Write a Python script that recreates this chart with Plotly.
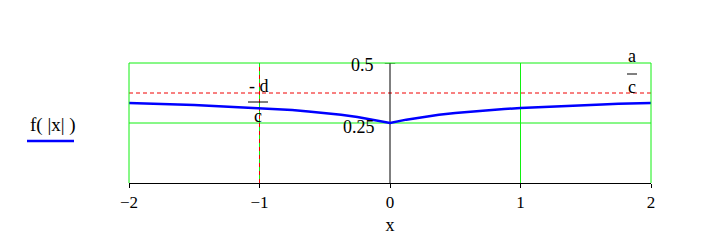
import plotly.graph_objects as go

# Data: f(|x|)
x_vals = [-2.0, -1.875, -1.75, -1.625, -1.5, -1.375, -1.25, -1.125, -1.0,
          -0.875, -0.75, -0.625, -0.5, -0.375, -0.25, -0.125, 0.0,
          0.125, 0.25, 0.375, 0.5, 0.625, 0.75, 0.875, 1.0,
          1.125, 1.25, 1.375, 1.5, 1.625, 1.75, 1.875, 2.0]
f_vals = [0.333, 0.332, 0.330, 0.327, 0.325, 0.322, 0.319, 0.316, 0.3125,
          0.308, 0.304, 0.298, 0.292, 0.284, 0.275, 0.264, 0.25,
          0.264, 0.275, 0.284, 0.292, 0.298, 0.304, 0.308, 0.3125,
          0.316, 0.319, 0.322, 0.325, 0.327, 0.330, 0.332, 0.333]
asym_y = 0.375   # a/c
asym_x = -1.0    # -d/c
x_ticks = [-2, -1, 0, 1, 2]
y_ticks = [0.25, 0.5]
y_tick_labels = ["0.25", "0.5"]

FONT = "Liberation Serif"
GREEN = "#10f010"
RED = "#f00000"
W, H = 703, 251
L, R, T, B = 129, 52, 63, 68
PW, PH = W - L - R, H - T - B


def px(xp):
    return (xp - L) / PW


def py(yp):
    return (H - B - yp) / PH


fig = go.Figure()

# inner grid lines (green) as traces so they align with the dashed asymptotes
for xv in x_ticks[1:-1]:
    if xv == 0:
        continue
    fig.add_trace(go.Scatter(x=[xv, xv], y=[0, 0.5], mode="lines",
                             line=dict(color=GREEN, width=1),
                             showlegend=False, hoverinfo="skip"))
fig.add_trace(go.Scatter(x=[-2, 2], y=[y_ticks[0], y_ticks[0]], mode="lines",
                         line=dict(color=GREEN, width=1),
                         showlegend=False, hoverinfo="skip"))
# plot border (green) at x=-2, x=2, y=0.5
fig.add_shape(type="line", xref="paper", yref="paper", x0=0, x1=0, y0=0, y1=1,
              line=dict(color=GREEN, width=1), layer="above")
fig.add_shape(type="line", xref="paper", yref="paper", x0=1, x1=1, y0=0, y1=1,
              line=dict(color=GREEN, width=1), layer="above")
fig.add_shape(type="line", xref="paper", yref="paper", x0=0, x1=1, y0=1, y1=1,
              line=dict(color=GREEN, width=1), layer="above")

# Asymptote lines
fig.add_trace(go.Scatter(x=[x_ticks[0], x_ticks[-1]], y=[asym_y, asym_y], mode="lines",
                         line=dict(color=RED, width=1, dash="4px,3px"),
                         showlegend=False, hoverinfo="skip"))
fig.add_trace(go.Scatter(x=[asym_x, asym_x], y=[0, 0.5], mode="lines",
                         line=dict(color=RED, width=1, dash="4px,4px"),
                         showlegend=False, hoverinfo="skip"))
# y axis at x=0
fig.add_trace(go.Scatter(x=[0, 0], y=[0, 0.5], mode="lines",
                         line=dict(color="black", width=1),
                         showlegend=False, hoverinfo="skip", cliponaxis=False))
fig.add_trace(go.Scatter(x=[-0.04, 0.04], y=[0.5, 0.5], mode="lines",
                         line=dict(color="black", width=1),
                         showlegend=False, hoverinfo="skip", cliponaxis=False))
# Main curve
fig.add_trace(go.Scatter(x=x_vals, y=f_vals, mode="lines",
                         line=dict(color="#0000ff", width=2.5),
                         showlegend=False, hoverinfo="skip"))

fig.update_xaxes(range=[-2, 2], tickvals=x_ticks, showgrid=False,
                 zeroline=False, showline=True, linecolor="black",
                 linewidth=1, ticks="outside", ticklen=4, tickcolor="black",
                 tickfont=dict(family=FONT, size=17, color="black"),
                 title=dict(text="x", font=dict(family=FONT, size=18, color="black"),
                            standoff=6))
fig.update_yaxes(range=[0, 0.5], tickvals=y_ticks, showgrid=False,
                 zeroline=False, showline=False, showticklabels=False, ticks="")

# y tick labels next to the y axis at x=0
fig.add_annotation(xref="paper", yref="paper", x=px(376), y=py(65), text=y_tick_labels[1],
                   showarrow=False, xanchor="right", yanchor="middle",
                   font=dict(family=FONT, size=18, color="black"))
fig.add_annotation(xref="paper", yref="paper", x=px(377), y=py(127), text=y_tick_labels[0],
                   showarrow=False, xanchor="right", yanchor="middle",
                   font=dict(family=FONT, size=18, color="black"))

# fraction labels -d/c
fig.add_annotation(xref="paper", yref="paper", x=px(259), y=py(86), text="- d",
                   showarrow=False, xanchor="center", yanchor="middle",
                   font=dict(family=FONT, size=18, color="black"))
fig.add_annotation(xref="paper", yref="paper", x=px(258), y=py(116), text="c",
                   showarrow=False, xanchor="center", yanchor="middle",
                   font=dict(family=FONT, size=18, color="black"))
fig.add_shape(type="line", xref="paper", yref="paper", x0=px(248), x1=px(268),
              y0=py(102), y1=py(102), line=dict(color="black", width=1))
# fraction labels a/c
fig.add_annotation(xref="paper", yref="paper", x=px(632), y=py(56), text="a",
                   showarrow=False, xanchor="center", yanchor="middle",
                   font=dict(family=FONT, size=18, color="black"))
fig.add_annotation(xref="paper", yref="paper", x=px(632), y=py(87), text="c",
                   showarrow=False, xanchor="center", yanchor="middle",
                   font=dict(family=FONT, size=18, color="black"))
fig.add_shape(type="line", xref="paper", yref="paper", x0=px(627), x1=px(637),
              y0=py(74), y1=py(74), line=dict(color="black", width=1))

# legend-like label
fig.add_annotation(xref="paper", yref="paper", x=px(28), y=py(125), text="f( |x| )",
                   showarrow=False, xanchor="left", yanchor="middle",
                   font=dict(family=FONT, size=19, color="black"))
fig.add_shape(type="line", xref="paper", yref="paper", x0=px(27), x1=px(74),
              y0=py(141), y1=py(141), line=dict(color="#0000ff", width=2.5))

fig.update_layout(width=W, height=H, margin=dict(l=L, r=R, t=T, b=B),
                  paper_bgcolor="white", plot_bgcolor="white", showlegend=False)

fig.write_html("out.html")
